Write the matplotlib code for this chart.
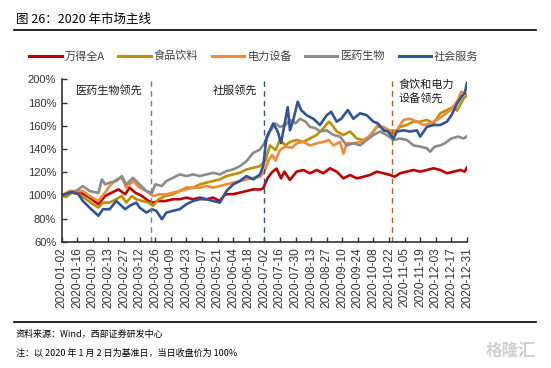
import numpy as np
import matplotlib.pyplot as plt
import matplotlib.dates as mdates

plt.rcParams['font.family'] = ['Noto Sans CJK SC', 'DejaVu Sans']

# days after 2020-01-02 and index level (%)
wind_days = [0, 10, 19, 25, 33, 39, 45, 51, 57, 61, 66, 72, 78, 82, 87, 93, 100, 106, 112, 118, 124,
             130, 136, 142, 147, 154, 160, 166, 172, 178, 181, 185, 189, 193, 197, 200, 205, 211, 217,
             223, 229, 235, 241, 247, 253, 259, 265, 271, 277, 283, 289, 295, 299, 304, 310, 316, 322,
             328, 334, 340, 346, 352, 358, 362, 364]
wind_vals = [100, 102.3, 101.5, 98, 92.3, 99.4, 102.3, 105.1, 100.9, 106.6, 102.3, 99.4, 95.1, 93.7,
             95.1, 95, 96.6, 96.6, 98, 96.6, 98, 96.6, 98, 95.1, 100.9, 101, 102.3, 103.7, 105.1, 105,
             106, 115, 120, 123, 114.6, 120.4, 113.2, 120.4, 121.8, 119, 121.8, 119, 123.3, 120.4, 114.6,
             117.5, 114.6, 116, 117.5, 120.4, 119, 117.5, 116, 119, 120.4, 121.8, 120.4, 121.8, 123.3,
             121.8, 119, 120.4, 121.8, 120.4, 124]

food_days = [0, 4, 9, 16, 22, 28, 33, 37, 43, 49, 54, 58, 63, 67, 73, 78, 82, 87, 93, 100, 106, 112,
             118, 124, 130, 136, 142, 148, 154, 160, 166, 172, 178, 183, 187, 192, 196, 201, 205, 211,
             217, 223, 229, 235, 240, 243, 247, 253, 259, 265, 271, 277, 283, 289, 295, 298, 304, 310,
             316, 322, 328, 334, 340, 346, 352, 355, 361, 364]
food_vals = [99.4, 98.6, 102.3, 100.9, 96.6, 92.3, 89.4, 93.7, 93.7, 96.6, 99.4, 93.7, 99.4, 96.6, 95,
             93.7, 90.9, 96.6, 99.4, 100.9, 103.7, 106.6, 106.6, 109.4, 110.9, 112.3, 113.7, 116.6, 118,
             119.4, 122.3, 123.7, 125.1, 130, 143, 139, 147.7, 143, 146, 147.7, 146, 149, 152, 157.8,
             163.5, 160.6, 155, 152, 155, 149, 147.7, 150.6, 159, 159, 155, 153.4, 159, 160.6, 163.5,
             163.5, 165, 162, 170.7, 173.5, 176.4, 173, 183.6, 186]

power_days = [0, 7, 13, 19, 25, 33, 39, 43, 49, 54, 58, 64, 70, 76, 82, 88, 94, 100, 106, 112, 118,
              124, 130, 136, 142, 148, 154, 160, 166, 172, 178, 182, 186, 189, 192, 196, 201, 207, 211,
              217, 223, 229, 235, 240, 244, 250, 253, 256, 262, 268, 274, 280, 284, 289, 295, 301, 307,
              313, 319, 325, 331, 337, 343, 349, 355, 359, 362, 364]
power_vals = [100, 103.7, 103.7, 103.7, 99.4, 95.1, 102.3, 108, 113.7, 115.1, 106.6, 112.3, 106.6,
              103.7, 99.4, 100.9, 100.9, 102.3, 103.7, 105.1, 106.6, 106.6, 108, 106.6, 108, 109.4,
              110.9, 112.3, 113.7, 115.1, 116, 120.4, 130.4, 134.8, 130, 139, 142, 141, 144.8, 146, 143,
              144.8, 146, 147.7, 143, 146, 136, 144.8, 144.8, 146, 149, 155, 160.6, 157.8, 156, 156,
              165, 166, 163.5, 160.6, 162, 165, 169, 173.5, 180.7, 189.4, 188, 187]

pharma_days = [0, 7, 13, 19, 25, 33, 36, 39, 43, 49, 54, 58, 64, 70, 76, 81, 84, 90, 94, 100, 106,
               112, 118, 124, 130, 136, 142, 148, 154, 160, 166, 172, 178, 183, 187, 192, 196, 201, 205,
               210, 214, 219, 223, 228, 232, 238, 244, 250, 256, 262, 268, 274, 280, 286, 292, 298, 304,
               310, 316, 322, 328, 331, 335, 340, 344, 350, 356, 361, 364]
pharma_vals = [100, 102, 103.7, 108, 103.7, 102, 113.7, 109.4, 110.9, 112.3, 116.6, 109.4, 115.1,
               109.4, 103.7, 102, 109.4, 108, 112.3, 115.1, 118, 116.6, 118, 116.6, 118, 119.4, 118,
               120.9, 122.3, 125.1, 129.4, 136.6, 139.4, 146, 155, 162, 159, 160.6, 165, 162, 166,
               163.5, 159, 157.8, 155, 156, 152, 150.6, 143, 144.8, 143, 147.7, 152, 155, 152, 147.7,
               149, 147.7, 143, 142, 140.5, 137.6, 142, 143, 144.8, 149, 150.6, 149, 151]

service_days = [0, 9, 15, 19, 25, 33, 37, 43, 49, 57, 61, 67, 70, 76, 81, 85, 90, 94, 100, 106, 112,
                118, 124, 130, 136, 142, 148, 154, 160, 166, 172, 178, 181, 184, 187, 190, 194, 197,
                200, 203, 205, 208, 212, 215, 220, 226, 232, 238, 242, 247, 251, 257, 262, 268, 274,
                280, 284, 289, 293, 298, 301, 307, 313, 319, 322, 328, 334, 340, 346, 350, 355, 359,
                362, 364]
service_vals = [100, 102.9, 100.9, 95.1, 89.4, 82.3, 88, 88, 95.1, 88, 90.9, 93.7, 89.4, 85.1, 88,
                86.6, 79.4, 85.1, 86.6, 88, 92.3, 95.1, 96.6, 96.6, 95.1, 93.7, 103.7, 109.4, 112.3,
                116.6, 113.7, 118, 125.1, 150, 156, 162, 155, 145, 160.6, 176, 156, 165, 180.7, 173.5,
                169, 166, 160.6, 169, 172, 163.5, 166, 173.5, 166, 170.7, 169, 163.5, 162, 156, 155, 149,
                155, 156, 155, 156, 150.6, 159, 160.6, 160.6, 163.5, 169, 179, 185, 188, 197]

series_names = ['万得全A', '食品饮料', '电力设备', '医药生物', '社会服务']
series_colors = ['#C00000', '#BF9000', '#F28A3C', '#8C8C8C', '#2F5597']

# phase markers (days after 2020-01-02) and their notes
phase_days = [80, 182, 297]
phase_colors = ['#7F7F7F', '#2F5597', '#C55A11']
phase_notes = ['医药生物领先', '社服领先', '食饮和电力\n设备领先']

y_ticks = [60, 80, 100, 120, 140, 160, 180, 200]

start = np.datetime64('2020-01-02')


def to_dates(days):
    return start + np.array(days, dtype='timedelta64[D]')


fig = plt.figure(figsize=(5.51, 3.68), dpi=100)
ax = fig.add_axes([0.112, 0.3432, 0.7355, 0.4413])

all_days = [wind_days, food_days, power_days, pharma_days, service_days]
all_vals = [wind_vals, food_vals, power_vals, pharma_vals, service_vals]
for d, v, name, c in zip(all_days, all_vals, series_names, series_colors):
    ax.plot(to_dates(d), v, color=c, lw=1.9, label=name, solid_joinstyle='round')

for d, c in zip(phase_days, phase_colors):
    ax.axvline(to_dates([d])[0], color=c, lw=1.0, ls=(0, (4, 3)))

ax.text(0.035, 0.93, phase_notes[0], transform=ax.transAxes, fontsize=8, color='#1a1a1a', va='center')
ax.text(0.372, 0.935, phase_notes[1], transform=ax.transAxes, fontsize=8, color='#1a1a1a', va='center')
ax.text(0.832, 0.925, phase_notes[2], transform=ax.transAxes, fontsize=8, color='#1a1a1a', va='center',
        linespacing=1.35)

ax.set_ylim(60, 200)
ax.set_yticks(y_ticks)
ax.set_yticklabels([f'{t}%' for t in y_ticks], family=['Liberation Sans'], fontsize=8, color='#333333')

ax.set_xlim(start, np.datetime64('2020-12-31'))
x_ticks = np.arange(start, np.datetime64('2021-01-01'), np.timedelta64(14, 'D'))
ax.set_xticks(x_ticks)
ax.xaxis.set_major_formatter(mdates.DateFormatter('%Y-%m-%d'))
for lab in ax.get_xticklabels():
    lab.set_rotation(90)
    lab.set_family(['Liberation Sans'])
    lab.set_fontsize(8.6)
    lab.set_color('#333333')

ax.tick_params(axis='both', direction='in', length=3.5, width=1, color='#333333', pad=4)
for s in ['top', 'right']:
    ax.spines[s].set_visible(False)
for s in ['left', 'bottom']:
    ax.spines[s].set_color('#333333')
    ax.spines[s].set_linewidth(1.2)

leg = fig.legend(loc='center', bbox_to_anchor=(254 / 551, 1 - 56 / 368), ncol=5, frameon=False,
                 fontsize=8, handlelength=2.9, handletextpad=0.3, columnspacing=1.2)
for t in leg.get_texts():
    t.set_color('#404040')
for h in leg.get_lines():
    h.set_linewidth(2.2)

# title, rules and footer
fig.text(16 / 551, 1 - 19 / 368, '图 26：2020 年市场主线', fontsize=9, va='center', color='black')
fig.add_artist(plt.Line2D([14 / 551, 536 / 551], [1 - 30 / 368] * 2, color='black', lw=1.2))
fig.add_artist(plt.Line2D([14 / 551, 536 / 551], [1 - 322 / 368] * 2, color='black', lw=1.2))
fig.text(16 / 551, 1 - 334 / 368, '资料来源：Wind，西部证券研发中心', fontsize=6.5, va='center', color='black')
fig.text(16 / 551, 1 - 353 / 368, '注：以 2020 年 1 月 2 日为基准日，当日收盘价为 100%', fontsize=6.5,
         va='center', color='black')
fig.text(511 / 551, 1 - 351 / 368, '格隆汇', fontsize=12, va='center', ha='center', color='#d0d0d0',
         fontweight='bold')

fig.savefig('out.png', dpi=100)
